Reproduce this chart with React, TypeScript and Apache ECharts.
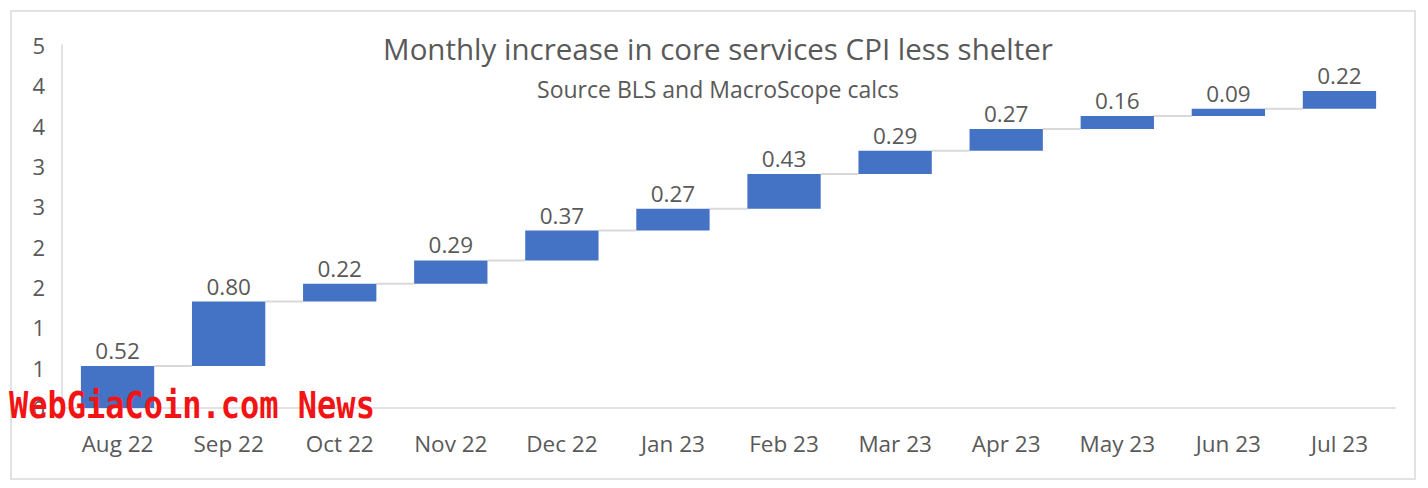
import React, { useEffect, useRef } from "react";
import * as echarts from "echarts";

const categories = ["Aug 22", "Sep 22", "Oct 22", "Nov 22", "Dec 22", "Jan 23", "Feb 23", "Mar 23", "Apr 23", "May 23", "Jun 23", "Jul 23"];
const increases = [0.52, 0.80, 0.22, 0.29, 0.37, 0.27, 0.43, 0.29, 0.27, 0.16, 0.09, 0.22];
const yTickValues = [0, 0.5, 1, 1.5, 2, 2.5, 3, 3.5, 4, 4.5];

const TITLE = "Monthly increase in core services CPI less shelter";
const SUBTITLE = "Source BLS and MacroScope calcs";
const WATERMARK = "WebGiaCoin.com News";

export default function App() {
  const ref = useRef<HTMLDivElement>(null);
  useEffect(() => {
    if (!ref.current) return;
    const chart = echarts.init(ref.current, null, { renderer: "svg" });
    const cumulative: number[] = [];
    let acc = 0;
    increases.forEach((v) => {
      acc = Math.round((acc + v) * 100) / 100;
      cumulative.push(acc);
    });
    const bases = cumulative.map((c, i) => Math.round((c - increases[i]) * 100) / 100);
    const font = "'Open Sans', 'Noto Sans', sans-serif";
    const textColor = "#595959";
    const connectorData = cumulative.slice(0, -1).map((c, i) => [i, c]);

    chart.setOption({
      animation: false,
      backgroundColor: "#ffffff",
      title: [
        {
          text: TITLE,
          left: 713,
          top: 28,
          textAlign: "center",
          textStyle: { fontFamily: font, fontSize: 29.5, fontWeight: "normal", color: textColor },
        },
        {
          text: SUBTITLE,
          left: 713,
          top: 72,
          textAlign: "center",
          textStyle: { fontFamily: font, fontSize: 23, fontWeight: "normal", color: textColor },
        },
      ],
      grid: { left: 62, right: 33, top: 45, bottom: 80, containLabel: false },
      xAxis: {
        type: "category",
        data: categories,
        axisLine: { show: true, lineStyle: { color: "#d9d9d9", width: 1.5 } },
        axisTick: { show: false },
        axisLabel: { fontFamily: font, fontSize: 22.5, color: textColor, margin: 24 },
      },
      yAxis: {
        type: "value",
        min: 0,
        max: 4.5,
        interval: 0.5,
        axisLine: { show: true, lineStyle: { color: "#d9d9d9", width: 1.5 } },
        axisTick: { show: false },
        splitLine: { show: false },
        axisLabel: {
          fontFamily: font,
          fontSize: 22,
          color: textColor,
          margin: 17,
          formatter: (v: number) => (yTickValues.includes(v) ? String(Math.round(v)) : ""),
        },
      },
      series: [
        {
          name: "base",
          type: "bar",
          stack: "wf",
          data: bases,
          barWidth: "66%",
          itemStyle: { color: "transparent" },
          emphasis: { disabled: true },
          silent: true,
        },
        {
          name: "increase",
          type: "bar",
          stack: "wf",
          data: increases,
          barWidth: "66%",
          z: 3,
          itemStyle: { color: "#4472C4" },
          label: {
            show: true,
            position: "top",
            distance: 4,
            fontFamily: font,
            fontSize: 22.5,
            color: textColor,
            formatter: (p: any) => Number(p.value).toFixed(2),
          },
        },
        {
          name: "connectors",
          type: "custom",
          z: 1,
          data: connectorData,
          renderItem: (params: any, api: any) => {
            const i = api.value(0);
            const y = api.value(1);
            const p1 = api.coord([i, y]);
            const p2 = api.coord([i + 1, y]);
            const bw = api.size([1, 0])[0] * 0.66;
            return {
              type: "line",
              shape: { x1: p1[0] + bw / 2, y1: p1[1], x2: p2[0] - bw / 2, y2: p2[1] },
              style: { stroke: "#d9d9d9", lineWidth: 2 },
            };
          },
        },
      ],
      graphic: [
        {
          type: "rect",
          shape: { x: 11, y: 11, width: 1404, height: 468 },
          style: { fill: "none", stroke: "#d9d9d9", lineWidth: 1.5 },
          silent: true,
        },
        {
          type: "text",
          x: 9,
          y: 387,
          scaleX: 1.0,
          scaleY: 1.15,
          z: 100,
          style: {
            text: WATERMARK,
            fontFamily: "'DejaVu Sans Mono', monospace",
            fontWeight: "bold",
            fontSize: 32,
            fill: "#f21414",
          },
        },
      ],
    });
    return () => chart.dispose();
  }, []);
  return <div ref={ref} style={{ position: "fixed", left: 0, top: 0, width: 1428, height: 488 }} />;
}
